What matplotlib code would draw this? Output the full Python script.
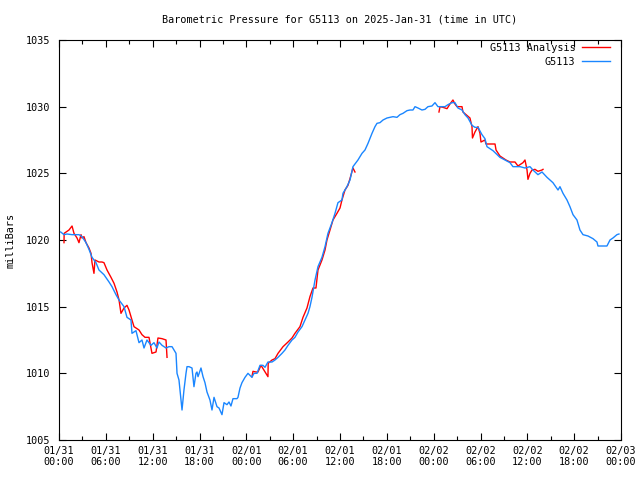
import numpy as np
import matplotlib
matplotlib.use("Agg")
from matplotlib import pyplot as plt
from matplotlib.ticker import MultipleLocator, FixedLocator

# hours since 2025-01-31 00:00 UTC, pressure in millibars
obs_hours = [0.22, 0.64, 1.02, 1.67, 2.56, 2.95, 3.46, 3.84, 4.23, 4.74, 5.12, 5.76,
             6.41, 6.79, 7.30, 7.69, 8.33, 8.71, 9.22, 9.35, 9.86, 10.25, 10.63, 10.89,
             11.27, 11.79, 12.17, 12.55, 12.81, 13.20, 13.71, 14.09, 14.48, 14.99, 15.12,
             15.37, 15.63, 15.76, 16.01, 16.27, 16.40, 16.65, 17.04, 17.29, 17.55, 17.68,
             17.81, 18.19, 18.45, 18.70, 18.96, 19.34, 19.60, 19.86, 20.24, 20.50, 20.88,
             21.14, 21.52, 21.78, 22.03, 22.29, 22.80, 22.93, 23.19, 23.44, 23.83, 24.21,
             24.47, 24.72, 24.98, 25.37, 25.75, 26.13, 26.39, 26.77, 27.29, 27.67, 28.06,
             28.57, 28.95, 29.34, 29.85, 30.23, 30.62, 31.13, 31.51, 31.90, 32.15, 32.41,
             32.80, 33.18, 33.69, 34.08, 34.46, 34.97, 35.36, 35.74, 36.25, 36.38, 36.89,
             37.28, 37.66, 38.30, 38.82, 39.20, 39.59, 40.10, 40.48, 40.74, 41.12, 41.51,
             42.02, 42.40, 42.79, 43.30, 43.68, 44.07, 44.58, 44.97, 45.35, 45.61, 45.99,
             46.50, 46.89, 47.27, 47.78, 48.17, 48.55, 49.06, 49.45, 49.83, 50.35, 50.73,
             51.11, 51.63, 52.01, 52.40, 52.91, 53.29, 53.68, 54.19, 54.57, 54.83, 55.60,
             56.49, 57.14, 57.78, 58.16, 59.06, 59.70, 60.34, 60.72, 61.36, 61.88, 62.52,
             62.90, 63.28, 63.93, 64.18, 64.57, 65.08, 65.46, 65.85, 66.36, 66.74, 67.13,
             67.77, 68.41, 68.92, 69.05, 69.69, 70.20, 70.59, 70.97, 71.48, 71.74]
obs_press = [1020.6, 1020.4, 1020.45, 1020.4, 1020.4, 1020.25, 1019.8, 1019.3, 1018.7, 1018.3,
             1017.75, 1017.4, 1016.85, 1016.5, 1015.9, 1015.5, 1015.0, 1014.2, 1014.0, 1013.0,
             1013.2, 1012.3, 1012.5, 1011.9, 1012.5, 1012.1, 1012.3, 1011.9, 1012.35, 1012.1,
             1011.9, 1012.0, 1012.0, 1011.5, 1010.0, 1009.5, 1008.0, 1007.25, 1008.75, 1010.0,
             1010.5, 1010.5, 1010.4, 1009.0, 1010.0, 1010.1, 1009.75, 1010.4, 1009.75, 1009.3,
             1008.6, 1008.0, 1007.25, 1008.2, 1007.5, 1007.4, 1006.9, 1007.8, 1007.65, 1007.85,
             1007.55, 1008.1, 1008.1, 1008.2, 1008.9, 1009.3, 1009.7, 1010.0, 1009.85, 1009.7,
             1010.0, 1010.0, 1010.6, 1010.6, 1010.45, 1010.85, 1010.85, 1011.0, 1011.2, 1011.5,
             1011.75, 1012.1, 1012.5, 1012.7, 1013.1, 1013.5, 1014.0, 1014.5, 1015.0, 1015.7,
             1017.0, 1018.0, 1018.7, 1019.5, 1020.5, 1021.3, 1022.0, 1022.8, 1023.0, 1023.5,
             1024.0, 1024.5, 1025.5, 1026.0, 1026.5, 1026.75, 1027.25, 1028.0, 1028.5, 1028.75,
             1028.8, 1029.0, 1029.15, 1029.2, 1029.25, 1029.2, 1029.4, 1029.5, 1029.7, 1029.75,
             1029.75, 1030.0, 1029.9, 1029.75, 1029.8, 1030.0, 1030.05, 1030.3, 1030.0, 1030.0,
             1030.0, 1030.15, 1030.3, 1030.3, 1029.9, 1029.75, 1029.4, 1029.15, 1028.6, 1028.45,
             1028.45, 1027.9, 1027.6, 1027.0, 1026.7, 1026.2, 1026.0, 1025.8, 1025.5, 1025.5,
             1025.4, 1025.5, 1025.25, 1024.9, 1025.1, 1024.7, 1024.5, 1024.3, 1023.75, 1024.0,
             1023.5, 1023.0, 1022.5, 1021.9, 1021.5, 1020.75, 1020.4, 1020.3, 1020.1, 1019.85,
             1019.55, 1019.55, 1019.55, 1020.0, 1020.15, 1020.4, 1020.45]

# analysis series, NaN marks the gaps between segments
ana_hours = [0.64, 0.66, 1.28, 1.67, 1.92, 2.31, 2.56, 2.82, 2.95, 3.20, 3.46, 3.84, 4.10, 4.23,
             4.48, 4.61, 5.12, 5.51, 5.76, 6.15, 6.66, 7.05, 7.43, 7.69, 7.94, 8.33, 8.71, 8.97,
             9.35, 9.61, 10.25, 10.63, 11.02, 11.53, 11.91, 12.43, 12.68, 13.20, 13.71, 13.84,
             np.nan,
             24.72, 24.85, 25.24, 25.49, 25.88, 26.77, 26.80, 27.29, 27.67, 28.06, 28.70, 29.34,
             29.85, 30.23, 30.87, 31.26, 31.77, 32.15, 32.54, 32.92, 33.18, 33.69, 34.08, 34.33,
             34.72, 35.10, 35.61, 36.00, 36.25, 36.64, 37.02, 37.28, 37.66, 37.92,
             np.nan,
             48.68, 48.81, 49.19, 49.71, 50.09, 50.47, 50.73, 50.99, 51.63, 51.75, 52.65, 52.91,
             52.97, 53.29, 53.68, 53.93, 54.06, 54.57, 54.70, 55.86, 55.99, 56.49, 57.26, 57.78,
             58.42, 58.80, 59.44, 59.70, 59.96, 60.08, 60.34, 60.60, 60.98, 61.36, 61.88, 62.01]
ana_press = [1019.8, 1020.5, 1020.75, 1021.05, 1020.5, 1020.15, 1019.8, 1020.4, 1020.15, 1020.25,
             1019.8, 1019.4, 1019.0, 1018.3, 1017.5, 1018.5, 1018.35, 1018.35, 1018.3, 1017.75,
             1017.2, 1016.75, 1016.1, 1015.5, 1014.5, 1014.9, 1015.1, 1014.75, 1014.0, 1013.5,
             1013.25, 1012.9, 1012.7, 1012.7, 1011.5, 1011.6, 1012.65, 1012.6, 1012.5, 1011.2,
             np.nan,
             1009.75, 1010.15, 1010.1, 1010.1, 1010.6, 1009.75, 1010.75, 1011.0, 1011.1, 1011.5,
             1012.0, 1012.35, 1012.65, 1013.0, 1013.5, 1014.2, 1014.9, 1015.75, 1016.4, 1016.4,
             1017.75, 1018.5, 1019.25, 1020.0, 1020.75, 1021.5, 1022.0, 1022.4, 1023.0, 1023.75,
             1024.1, 1024.6, 1025.4, 1025.1,
             np.nan,
             1029.6, 1030.0, 1029.95, 1029.85, 1030.2, 1030.5, 1030.2, 1030.0, 1030.0, 1029.6,
             1029.15, 1028.5, 1027.65, 1028.1, 1028.5, 1028.0, 1027.35, 1027.5, 1027.2, 1027.2,
             1026.75, 1026.3, 1026.0, 1025.85, 1025.85, 1025.55, 1025.8, 1026.0, 1025.25, 1024.55,
             1025.0, 1025.25, 1025.3, 1025.15, 1025.25, 1025.3]

tick_hours = list(range(0, 73, 6))
tick_labels = ["01/31\n00:00", "01/31\n06:00", "01/31\n12:00", "01/31\n18:00",
               "02/01\n00:00", "02/01\n06:00", "02/01\n12:00", "02/01\n18:00",
               "02/02\n00:00", "02/02\n06:00", "02/02\n12:00", "02/02\n18:00",
               "02/03\n00:00"]

plt.rcParams['font.family'] = ['DejaVu Sans Mono']
plt.rcParams['font.size'] = 7.3

fig = plt.figure(figsize=(6.4, 4.8), dpi=100)
ax = fig.add_axes([59/640, 40/480, 562/640, 400/480])

ax.plot(ana_hours, ana_press, color='#ff0000', lw=1.0, label='G5113 Analysis')
ax.plot(obs_hours, obs_press, color='#1a86ff', lw=1.0, label='G5113')

ax.set_xlim(0, 72)
ax.set_ylim(1005, 1035)
ax.xaxis.set_major_locator(FixedLocator(tick_hours))
ax.xaxis.set_minor_locator(MultipleLocator(3))
ax.set_xticklabels(tick_labels)
ax.yaxis.set_major_locator(MultipleLocator(5))
ax.tick_params(which='both', direction='in', top=True, right=True, color='black')
ax.tick_params(which='major', length=5, width=0.8, pad=4)
ax.tick_params(which='minor', length=3, width=0.8)
ax.tick_params(axis='y', which='major', pad=6)
for s in ax.spines.values():
    s.set_linewidth(0.8)

ax.set_ylabel('milliBars', labelpad=8)
fig.text(340/640, 1 - 19/480, 'Barometric Pressure for G5113 on 2025-Jan-31 (time in UTC)',
         ha='center', va='center')

# legend key sits inside the top right corner, like gnuplot's
leg = ax.legend(loc='upper right', bbox_to_anchor=(1 - 8/562, 1.0), frameon=False,
                markerfirst=False, handlelength=2.8, handletextpad=0.6,
                borderaxespad=0.0, borderpad=0.3, labelspacing=0.35)
for t in leg.get_texts():
    t.set_ha('right')

fig.savefig('out.png', dpi=100)
